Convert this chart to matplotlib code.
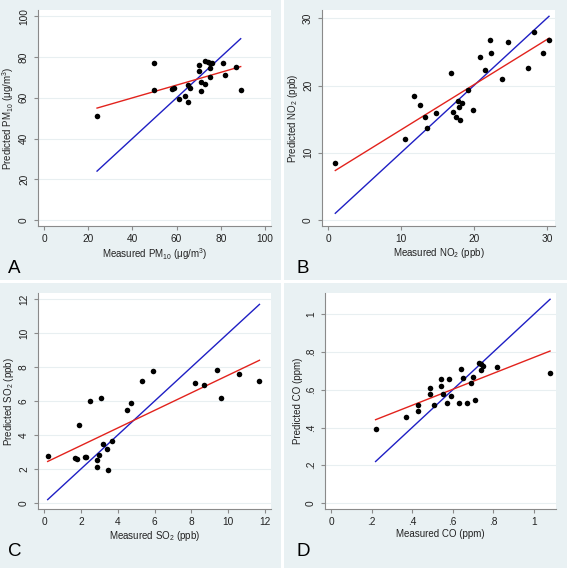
import numpy as np
import matplotlib
matplotlib.use("Agg")
import matplotlib.pyplot as plt
from matplotlib.patches import Rectangle

plt.rcParams["font.family"] = ["Liberation Sans", "DejaVu Sans"]
plt.rcParams["mathtext.fontset"] = "custom"
plt.rcParams["mathtext.rm"] = "Liberation Sans"
plt.rcParams["mathtext.it"] = "Liberation Sans:italic"
plt.rcParams["mathtext.bf"] = "Liberation Sans:bold"

# ── data (measured vs predicted) ────────────────────────────────────────────
pm10_meas = [24, 50, 50, 58, 59, 61, 64, 65, 65, 66, 70, 70, 71, 71, 73,
             73, 74, 75, 75, 75, 76, 81, 82, 87, 89]
pm10_pred = [51, 77, 64, 64.5, 65, 59.5, 61, 58, 66.5, 65, 76, 73, 63.5, 67.5, 67,
             78, 77.5, 77, 74.5, 70, 77, 77, 71, 75, 64]

no2_meas = [1.0, 10.5, 11.8, 12.6, 13.3, 13.6, 14.8, 16.9, 17.2, 17.5, 17.8, 18.0, 18.1,
            18.4, 19.2, 19.9, 20.9, 21.5, 22.2, 22.4, 23.9, 24.7, 27.4, 28.2, 29.5, 30.3]
no2_pred = [8.5, 12.0, 18.5, 17.1, 15.3, 13.7, 15.9, 21.8, 16.0, 15.3, 17.7, 16.8, 14.9,
            17.4, 19.3, 16.4, 24.2, 22.3, 26.7, 24.8, 21.0, 26.5, 22.6, 27.9, 24.8, 26.7]

so2_meas = [0.2, 1.7, 1.8, 1.9, 2.2, 2.3, 2.5, 2.9, 2.9, 3.0, 3.1, 3.2, 3.4, 3.5, 3.7,
            4.5, 4.7, 5.3, 5.9, 8.2, 8.7, 9.4, 9.6, 10.6, 11.7]
so2_pred = [2.75, 2.63, 2.6, 4.6, 2.7, 2.72, 6.0, 2.15, 2.55, 2.8, 6.2, 3.5, 3.2, 1.95, 3.65,
            5.45, 5.9, 7.2, 7.8, 7.05, 6.95, 7.85, 6.2, 7.6, 7.2]

co_meas = [0.22, 0.37, 0.43, 0.43, 0.49, 0.49, 0.51, 0.54, 0.54, 0.55, 0.57, 0.58, 0.59,
           0.63, 0.64, 0.65, 0.67, 0.69, 0.70, 0.71, 0.73, 0.74, 0.74, 0.75, 0.82, 1.08]
co_pred = [0.39, 0.455, 0.52, 0.49, 0.61, 0.58, 0.52, 0.66, 0.62, 0.58, 0.53, 0.655, 0.565,
           0.53, 0.71, 0.665, 0.53, 0.635, 0.67, 0.545, 0.74, 0.707, 0.735, 0.726, 0.72, 0.687]

pm10_ticks = [0, 20, 40, 60, 80, 100]
no2_ticks = [0, 10, 20, 30]
so2_ticks = [0, 2, 4, 6, 8, 10, 12]
co_ticks = [0, 0.2, 0.4, 0.6, 0.8, 1.0]
co_ticklabels = ["0", ".2", ".4", ".6", ".8", "1"]

panels = [
    ("A", pm10_meas, pm10_pred, pm10_ticks, None,
     r"Measured PM$_{\mathrm{10}}$ ($\mathrm{\mu}$g/m$^{\mathrm{3}}$)",
     r"Predicted PM$_{\mathrm{10}}$ ($\mathrm{\mu}$g/m$^{\mathrm{3}}$)"),
    ("B", no2_meas, no2_pred, no2_ticks, None,
     r"Measured NO$_{\mathrm{2}}$ (ppb)", r"Predicted NO$_{\mathrm{2}}$ (ppb)"),
    ("C", so2_meas, so2_pred, so2_ticks, None,
     r"Measured SO$_{\mathrm{2}}$ (ppb)", r"Predicted SO$_{\mathrm{2}}$ (ppb)"),
    ("D", co_meas, co_pred, co_ticks, co_ticklabels,
     "Measured CO (ppm)", "Predicted CO (ppm)"),
]

# ── layout in pixels ───────────────────────────────────────────────────────
W, H = 567, 568
BG = "#e9f1f3"
origins = [(0, 0), (284, 0), (0, 283), (284, 283)]
panel_sizes = [(281, 280), (283, 280), (281, 285), (283, 285)]
# plot region inside a panel: left, top, right, bottom
boxes = [(38, 10, 271, 226), (38, 10, 271, 226), (38, 10, 271, 226), (41, 10, 272, 226)]
letter_x = [8, 12, 8, 12]

fig = plt.figure(figsize=(W / 100, H / 100), dpi=100)
fig.patch.set_facecolor("white")


def fig_rect(x0, y0, x1, y1):
    return [x0 / W, 1 - y1 / H, (x1 - x0) / W, (y1 - y0) / H]


for i, (letter, xm, yp, ticks, ticklabels, xlab, ylab) in enumerate(panels):
    ox, oy = origins[i]
    pw, ph = panel_sizes[i]
    fig.add_artist(Rectangle((ox / W, 1 - (oy + ph) / H), pw / W, ph / H,
                             transform=fig.transFigure, facecolor=BG,
                             edgecolor="none", zorder=-5))

    l, t, r, b = boxes[i]
    ax = fig.add_axes(fig_rect(ox + l, oy + t, ox + r, oy + b))
    ax.set_facecolor("white")

    xm = np.asarray(xm, dtype=float)
    yp = np.asarray(yp, dtype=float)

    # data range like Stata: ticks plus data, with a small plot margin
    lo = min(ticks[0], xm.min(), yp.min())
    hi = max(ticks[-1], xm.max(), yp.max())
    span = hi - lo
    ax.set_xlim(lo - span * 6 / 221, hi + span * 6 / 221)
    ax.set_ylim(lo - span * 6 / 204, hi + span * 6.3 / 204)

    # line of identity over the measured range
    xr = np.array([xm.min(), xm.max()])
    ax.plot(xr, xr, color="#1f1fc4", lw=1.0, zorder=3)
    # linear fit
    slope, icpt = np.polyfit(xm, yp, 1)
    ax.plot(xr, icpt + slope * xr, color="#e2231d", lw=1.0, zorder=3)
    ax.plot(xm, yp, "o", color="black", ms=4.0, mew=0, zorder=4)

    ax.set_xticks(ticks)
    ax.set_yticks(ticks)
    if ticklabels is not None:
        ax.set_xticklabels(ticklabels)
        ax.set_yticklabels(ticklabels)
    ax.yaxis.grid(True, color="#e8eff1", lw=0.8)
    ax.set_axisbelow(True)

    for s in ["top", "right"]:
        ax.spines[s].set_visible(False)
    for s in ["left", "bottom"]:
        ax.spines[s].set_color("#8a8a8a")
        ax.spines[s].set_linewidth(0.8)
    ax.tick_params(length=3, width=0.8, color="#8a8a8a", labelsize=7.3,
                   labelcolor="#222222")
    ax.tick_params(axis="x", pad=2.5)
    ax.tick_params(axis="y", pad=3.5)
    for lab in ax.get_yticklabels():
        lab.set_rotation(90)
        lab.set_va("center")

    ax.set_xlabel(xlab, fontsize=7.0, color="#222222", labelpad=1.8)
    ax.set_ylabel(ylab, fontsize=7.0, color="#222222", labelpad=2.3)

    fig.text((ox + letter_x[i]) / W, 1 - (oy + 273) / H, letter,
             fontsize=13.5, color="black", ha="left", va="baseline")

fig.savefig("out.png", dpi=100, facecolor=fig.get_facecolor())
